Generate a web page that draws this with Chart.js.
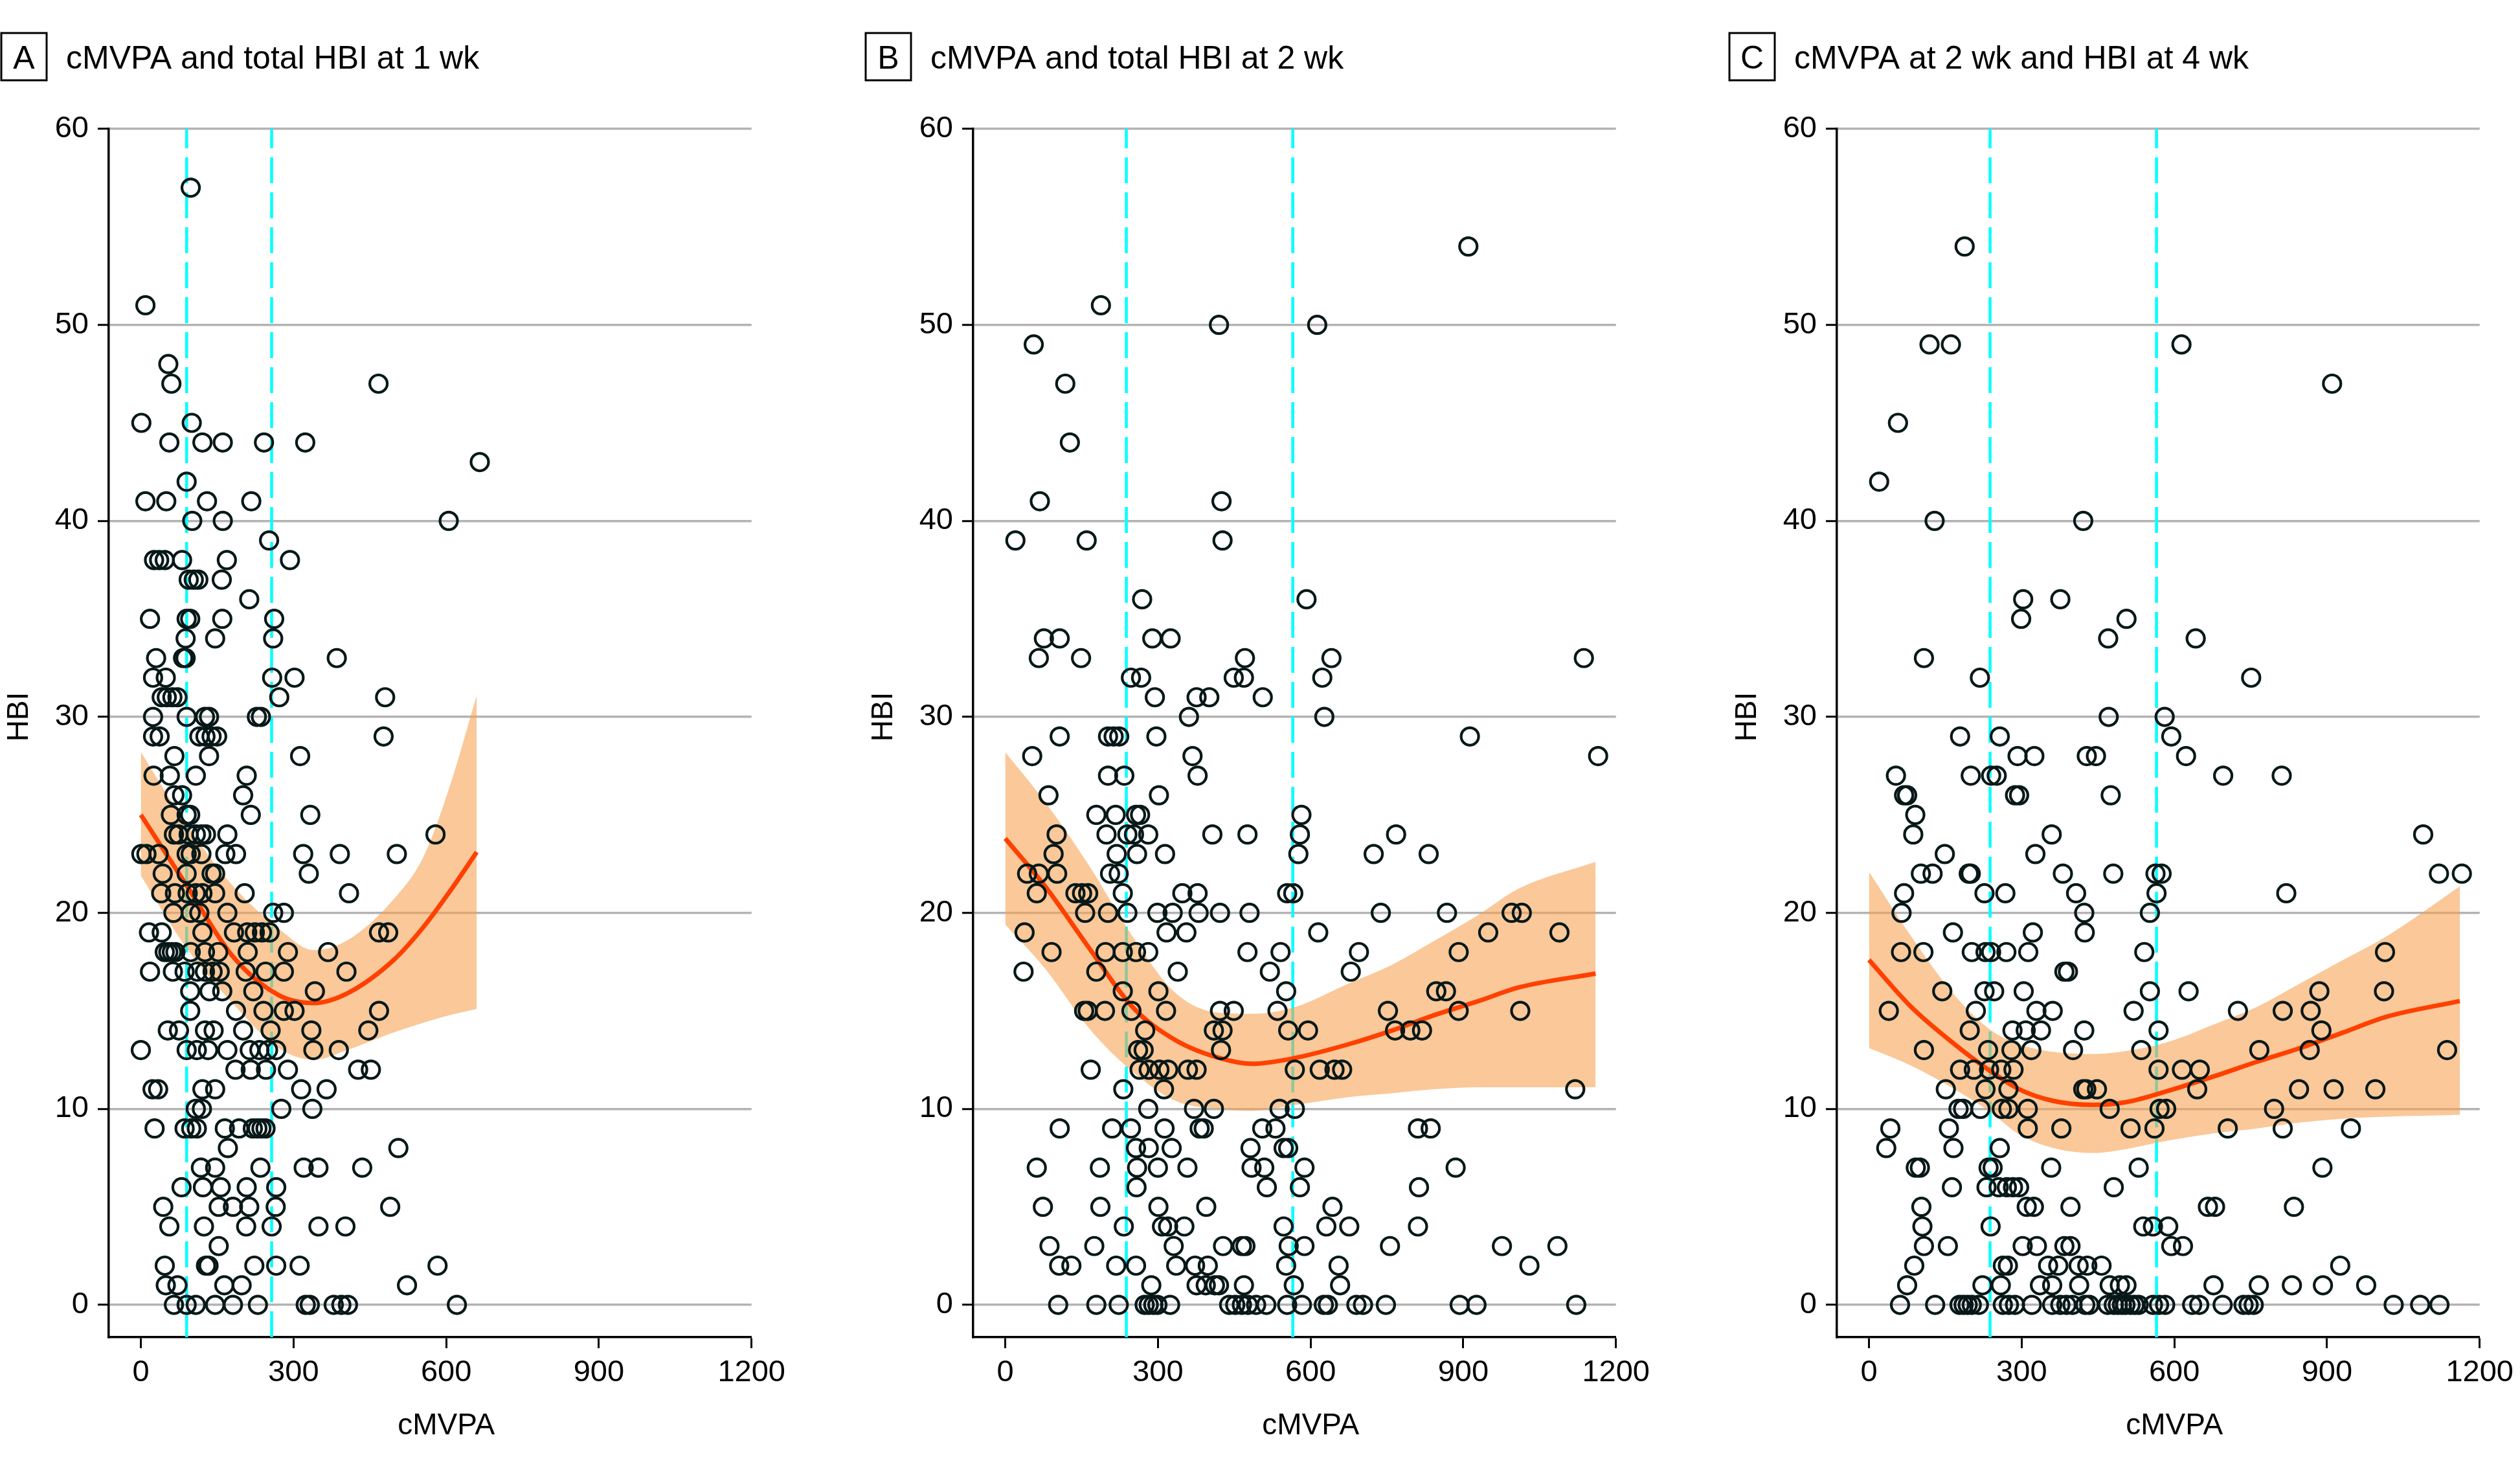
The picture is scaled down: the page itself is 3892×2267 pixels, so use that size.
<!DOCTYPE html>
<html>
<head>
<meta charset="utf-8">
<script src="https://cdn.jsdelivr.net/npm/chart.js@4.4.1/dist/chart.umd.min.js"></script>
<style>
  body { margin: 0; background: #fff; width: 3892px; height: 2267px; overflow: hidden; position: relative; }
  canvas { position: absolute; top: 0; }
</style>
</head>
<body>
<canvas id="panelA" width="1223" height="2267" style="left:0px"></canvas>
<canvas id="panelB" width="1223" height="2267" style="left:1335px"></canvas>
<canvas id="panelC" width="1223" height="2267" style="left:2669px"></canvas>
<script>
const xTicks = [0, 300, 600, 900, 1200];
const yTicks = [0, 10, 20, 30, 40, 50, 60];

// panel A - cMVPA and total HBI at 1 wk
const hbiA = [57, 51, 48, 47, 45, 44, 43, 42, 41, 40, 39, 38, 37, 36, 35, 34, 33, 32, 31, 30,
  29, 28, 27, 26, 25, 24, 23, 22, 21, 20, 19, 18, 17, 16, 15, 14, 13, 12, 11, 10,
  9, 8, 7, 6, 5, 4, 3, 2, 1, 0];
const mvpaA = [
  [98], [9], [54], [60, 467], [1, 100], [56, 121, 161, 242, 323], [666], [90],
  [9, 50, 130, 217], [101, 161, 605], [252], [26, 36, 47, 81, 169, 293],
  [94, 104, 113, 159], [213], [18, 90, 97, 160, 262], [88, 146, 260], [30, 83, 88, 385],
  [24, 49, 258, 302], [41, 51, 62, 72, 272, 480], [24, 90, 126, 134, 228, 236],
  [24, 37, 115, 127, 139, 150, 477], [66, 134, 313], [25, 57, 108, 208], [66, 81, 201],
  [59, 90, 97, 216, 333], [65, 74, 94, 108, 119, 128, 170, 579],
  [1, 11, 35, 90, 98, 119, 166, 187, 319, 391, 503], [43, 90, 139, 146, 330],
  [40, 67, 92, 108, 121, 146, 204, 409], [64, 98, 115, 170, 260, 281],
  [16, 41, 121, 183, 209, 224, 238, 253, 468, 486],
  [47, 54, 61, 68, 98, 126, 152, 210, 289, 368],
  [18, 63, 86, 111, 126, 141, 155, 206, 245, 281, 404], [97, 135, 160, 221, 342],
  [97, 187, 241, 281, 302, 468], [53, 75, 126, 143, 201, 255, 335, 447],
  [0, 90, 110, 132, 170, 214, 233, 250, 266, 339, 389], [186, 216, 246, 289, 427, 452],
  [23, 34, 121, 146, 315, 365], [108, 120, 276, 337],
  [27, 86, 99, 110, 165, 193, 220, 229, 237, 245], [171, 506],
  [118, 146, 235, 320, 349, 435], [80, 122, 157, 208, 266], [44, 153, 181, 213, 265, 490],
  [56, 124, 207, 257, 349, 402], [153], [47, 128, 133, 223, 266, 312, 583],
  [49, 72, 164, 198, 523], [65, 90, 108, 146, 181, 230, 324, 332, 379, 394, 407, 621]
];
const cutsA = [90, 257];
const fitXA = [0, 90, 180, 271, 340, 406, 497, 556, 610, 660];
const fitA = [25.0, 21.4, 17.8, 15.8, 15.4, 15.9, 17.6, 19.3, 21.2, 23.1];
const hiA = [28.2, 24.5, 21.4, 19.2, 18.1, 18.6, 20.7, 22.9, 26.7, 31.1];
const loA = [21.9, 18.2, 15.4, 13.1, 12.5, 13.0, 13.9, 14.4, 14.8, 15.1];

// panel B - cMVPA and total HBI at 2 wk
const hbiB = [54, 51, 50, 49, 47, 44, 41, 39, 36, 34, 33, 32, 31, 30, 29, 28, 27, 26, 25, 24,
  23, 22, 21, 20, 19, 18, 17, 16, 15, 14, 13, 12, 11, 10, 9, 8, 7, 6, 5, 4, 3, 2, 1, 0];
const mvpaB = [
  [910], [188], [420, 613], [56], [118], [127], [68, 425], [20, 160, 427], [269, 592],
  [76, 107, 289, 325], [66, 149, 471, 641, 1137], [247, 267, 449, 469, 623],
  [294, 376, 401, 506], [361, 627], [107, 202, 213, 224, 297, 913], [53, 368, 1165],
  [202, 234, 378], [85, 302], [179, 217, 257, 265, 582],
  [101, 199, 240, 253, 281, 407, 476, 579, 768], [95, 219, 259, 314, 576, 724, 832],
  [43, 66, 102, 206, 223], [62, 138, 151, 163, 231, 348, 378, 554, 566],
  [157, 202, 240, 299, 329, 380, 422, 480, 738, 868, 995, 1015],
  [38, 317, 356, 615, 949, 1089], [91, 197, 231, 257, 281, 476, 541, 695, 891],
  [36, 179, 339, 520, 679], [231, 301, 552, 847, 866],
  [155, 162, 196, 248, 316, 422, 449, 535, 752, 891, 1012],
  [275, 410, 427, 556, 595, 766, 796, 819], [261, 272, 424],
  [168, 264, 282, 303, 320, 359, 376, 569, 618, 647, 662], [232, 312, 1120],
  [281, 371, 410, 539, 569], [107, 210, 247, 313, 382, 390, 505, 531, 811, 836],
  [257, 282, 327, 482, 547, 556], [62, 186, 259, 300, 358, 484, 509, 588, 885],
  [258, 514, 579, 813], [74, 187, 301, 395, 643], [233, 308, 320, 352, 547, 631, 676, 811],
  [87, 175, 331, 428, 465, 472, 557, 588, 756, 976, 1085],
  [106, 130, 218, 257, 336, 373, 398, 552, 655, 1030],
  [287, 376, 394, 412, 420, 469, 567, 658],
  [104, 179, 223, 274, 282, 291, 299, 324, 440, 452, 465, 477, 493, 513, 554, 583, 626, 634,
    690, 703, 748, 893, 926, 1122]
];
const cutsB = [238, 565];
const fitXB = [0, 80, 165, 250, 335, 420, 485, 570, 675, 760, 845, 930, 1010, 1160];
const fitB = [23.8, 21.3, 18.2, 15.2, 13.5, 12.6, 12.3, 12.6, 13.3, 14.0, 14.8, 15.5, 16.2, 16.9];
const hiB = [28.2, 25.6, 22.4, 18.8, 15.9, 14.9, 14.85, 15.2, 16.4, 17.35, 18.6, 19.9, 21.25, 22.6];
const loB = [19.4, 17.1, 14.1, 11.9, 10.4, 10.0, 9.9, 10.2, 10.6, 10.8, 11.0, 11.1, 11.1, 11.1];

// panel C - cMVPA at 2 wk and HBI at 4 wk
const hbiC = [54, 49, 47, 45, 42, 40, 36, 35, 34, 33, 32, 30, 29, 28, 27, 26, 25, 24, 23, 22,
  21, 20, 19, 18, 17, 16, 15, 14, 13, 12, 11, 10, 9, 8, 7, 6, 5, 4, 3, 2, 1, 0];
const mvpaC = [
  [188], [119, 161, 614], [910], [57], [20], [129, 421], [303, 376], [299, 506], [470, 642],
  [108], [218, 751], [471, 581], [179, 257, 594], [292, 325, 428, 446, 623],
  [53, 200, 240, 251, 696, 811], [69, 75, 287, 295, 475], [91], [87, 359, 1089], [149, 327],
  [102, 125, 196, 200, 381, 480, 563, 575, 1120, 1165], [69, 227, 268, 407, 565, 820],
  [64, 423, 552], [165, 322, 424], [63, 107, 202, 229, 240, 270, 313, 541, 1014], [384, 391],
  [144, 227, 246, 304, 552, 628, 885, 1012], [39, 210, 329, 361, 520, 725, 813, 868],
  [198, 282, 308, 338, 423, 569, 889], [108, 234, 280, 319, 401, 535, 767, 866, 1136],
  [179, 206, 236, 260, 284, 569, 615, 650], [151, 229, 274, 421, 427, 448, 645, 845, 913, 995],
  [176, 185, 219, 261, 274, 312, 473, 571, 584, 796],
  [42, 157, 312, 378, 514, 561, 705, 813, 947], [34, 166, 257],
  [92, 100, 235, 243, 358, 530, 891], [163, 231, 255, 271, 283, 295, 481],
  [103, 310, 324, 396, 666, 680, 835], [105, 239, 539, 558, 588],
  [108, 155, 302, 330, 384, 396, 594, 617], [89, 263, 273, 352, 372, 412, 429, 457, 926],
  [75, 223, 259, 336, 360, 413, 473, 493, 506, 677, 766, 831, 892, 977],
  [61, 130, 178, 186, 194, 202, 216, 263, 275, 287, 320, 360, 376, 388, 400, 425, 433, 469,
    481, 489, 497, 504, 514, 522, 530, 558, 570, 582, 635, 649, 695, 736, 746, 756, 1031,
    1083, 1121]
];
const cutsC = [238, 565];
const fitXC = [0, 83, 168, 240, 295, 363, 440, 507, 592, 677, 762, 847, 932, 1017, 1161];
const fitC = [17.6, 15.2, 13.3, 11.9, 11.0, 10.4, 10.2, 10.35, 10.95, 11.65, 12.4, 13.1, 13.9, 14.7, 15.5];
const hiC = [22.1, 18.8, 15.8, 14.0, 13.3, 12.9, 12.8, 12.96, 13.45, 14.3, 15.2, 16.4, 17.6, 18.8, 21.35];
const loC = [13.1, 12.2, 11.0, 9.8, 8.7, 8.0, 7.75, 7.96, 8.4, 8.75, 9.0, 9.3, 9.5, 9.6, 9.7];

const X_MIN = -63, X_MAX = 1200, Y_MIN = -1.65, Y_MAX = 60;
const FONT = '"Liberation Sans", Arial, sans-serif';

Chart.defaults.font.family = FONT;
Chart.defaults.color = '#000';

const panelText = {
  id: 'panelText',
  afterDraw(chart, args, opts) {
    const ctx = chart.ctx;
    const xs = chart.scales.x, ys = chart.scales.y;
    ctx.save();
    ctx.strokeStyle = '#000';
    ctx.lineWidth = 3;
    ctx.strokeRect(2, 51, 70, 73);
    ctx.fillStyle = '#000';
    ctx.font = '50px ' + FONT;
    ctx.textBaseline = 'alphabetic';
    ctx.textAlign = 'center';
    ctx.fillText(opts.letter, 37, 106);
    ctx.textAlign = 'left';
    ctx.fillText(opts.title, 102, 106);
    ctx.font = '46px ' + FONT;
    ctx.textAlign = 'center';
    ctx.textBaseline = 'middle';
    ctx.fillText('cMVPA', xs.getPixelForValue(600), 2202);
    ctx.translate(30, ys.getPixelForValue(30));
    ctx.rotate(-Math.PI / 2);
    ctx.fillText('HBI', 0, 0);
    ctx.restore();
  }
};

function toPoints(hbi, mvpa) {
  const pts = [];
  hbi.forEach((h, i) => mvpa[i].forEach(x => pts.push({ x: x, y: h })));
  return pts;
}

function toLine(xs, ys) {
  return xs.map((x, i) => ({ x: x, y: ys[i] }));
}

function drawPanel(id, letter, title, hbi, mvpa, cuts, fitX, fit, lo, hi) {
  const datasets = [
    {
      type: 'scatter',
      data: toPoints(hbi, mvpa),
      pointRadius: 13.5,
      pointBorderWidth: 4.2,
      pointBackgroundColor: 'rgba(0,0,0,0)',
      pointBorderColor: '#081818',
      order: 0
    },
    {
      type: 'line',
      data: toLine(fitX, fit),
      borderColor: '#ff4000',
      borderWidth: 7,
      pointRadius: 0,
      cubicInterpolationMode: 'monotone',
      fill: false,
      order: 1
    },
    {
      type: 'line',
      data: toLine(fitX, hi),
      borderWidth: 0,
      pointRadius: 0,
      cubicInterpolationMode: 'monotone',
      backgroundColor: 'rgba(246,160,80,0.58)',
      fill: '+1',
      order: 2
    },
    {
      type: 'line',
      data: toLine(fitX, lo),
      borderWidth: 0,
      pointRadius: 0,
      cubicInterpolationMode: 'monotone',
      fill: false,
      order: 2
    }
  ];
  cuts.forEach(c => {
    datasets.push({
      type: 'line',
      data: [{ x: c, y: Y_MIN }, { x: c, y: Y_MAX }],
      borderColor: '#00ffff',
      borderWidth: 4.5,
      borderDash: [40, 14],
      pointRadius: 0,
      fill: false,
      order: 3
    });
  });

  new Chart(document.getElementById(id), {
    type: 'scatter',
    data: { datasets: datasets },
    plugins: [panelText],
    options: {
      responsive: false,
      animation: false,
      devicePixelRatio: 1,
      layout: { padding: { top: 199, right: 60, bottom: 0, left: 0 } },
      plugins: {
        legend: { display: false },
        tooltip: { enabled: false },
        panelText: { letter: letter, title: title }
      },
      scales: {
        x: {
          type: 'linear',
          min: X_MIN,
          max: X_MAX,
          afterBuildTicks: s => { s.ticks = xTicks.map(v => ({ value: v })); },
          afterFit: s => { s.height = 202; },
          grid: { drawOnChartArea: false, drawTicks: true, tickLength: 17, tickColor: '#000', tickWidth: 3 },
          border: { color: '#000', width: 3.5 },
          ticks: { font: { size: 47 }, color: '#000', padding: 10, maxRotation: 0, autoSkip: false,
            callback: v => String(v) }
        },
        y: {
          type: 'linear',
          min: Y_MIN,
          max: Y_MAX,
          afterBuildTicks: s => { s.ticks = yTicks.map(v => ({ value: v })); },
          afterFit: s => { s.width = 168; },
          grid: { color: '#b3b3b3', lineWidth: 3.5, tickLength: 17, tickColor: '#000', tickWidth: 3 },
          border: { color: '#000', width: 3.5 },
          ticks: { font: { size: 47 }, color: '#000', padding: 14, autoSkip: false,
            callback: v => String(v) }
        }
      }
    }
  });
}

drawPanel('panelA', 'A', 'cMVPA and total HBI at 1 wk', hbiA, mvpaA, cutsA, fitXA, fitA, loA, hiA);
drawPanel('panelB', 'B', 'cMVPA and total HBI at 2 wk', hbiB, mvpaB, cutsB, fitXB, fitB, loB, hiB);
drawPanel('panelC', 'C', 'cMVPA at 2 wk and HBI at 4 wk', hbiC, mvpaC, cutsC, fitXC, fitC, loC, hiC);
</script>
</body>
</html>
